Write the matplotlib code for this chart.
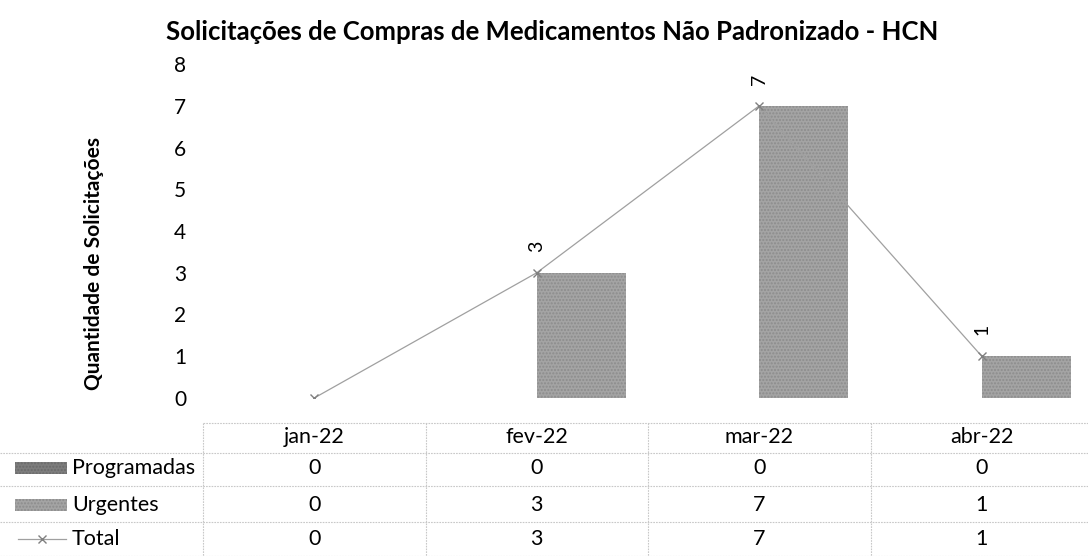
import matplotlib.pyplot as plt
import matplotlib.transforms as mtransforms
from matplotlib.patches import Rectangle
from matplotlib.lines import Line2D

plt.rcParams['font.family'] = ['Lato', 'DejaVu Sans']

meses = ['jan-22', 'fev-22', 'mar-22', 'abr-22']
programadas = [0, 0, 0, 0]
urgentes = [0, 3, 7, 1]
total = [0, 3, 7, 1]
linhas = ['Programadas', 'Urgentes', 'Total']

W, H = 1088, 556
fig = plt.figure(figsize=(W / 100, H / 100), dpi=100)

# plot area in pixels (left, top, right, bottom)
L, T, R, B = 203, 64, 1093, 398
ax = fig.add_axes([L / W, 1 - B / H, (R - L) / W, (B - T) / H])

x = list(range(len(meses)))
larg = 0.40
cor_prog = '#7d7d7d'
cor_urg = '#a4a4a4'
cor_linha = '#a0a0a0'

ax.bar([i - larg / 2 for i in x], programadas, width=larg, color=cor_prog,
       hatch='.....', edgecolor='#6a6a6a', linewidth=0)
ax.bar([i + larg / 2 for i in x], urgentes, width=larg, color=cor_urg,
       hatch='.....', edgecolor='#8c8c8c', linewidth=0)
ax.plot(x, total, color=cor_linha, lw=0.9, marker='x', ms=6, mew=1.0,
        mec='#808080')

for i, v in zip(x, total):
    if v > 0:
        ax.annotate(str(v), (i, v), xytext=(0, 19), textcoords='offset points',
                    ha='center', va='center', rotation=90, fontsize=14)

ax.set_xlim(-0.5, 3.5)
ax.set_ylim(0, 8)
ax.set_yticks(range(9))
ax.tick_params(axis='y', length=0, pad=12, labelsize=15)
ax.set_xticks([])
for s in ax.spines.values():
    s.set_visible(False)

ax.set_ylabel('Quantidade de Solicitações', fontsize=15, fontweight='bold')
ax.yaxis.set_label_coords((104 - L) / (R - L), (B - 264) / (B - T))

fig.text(552 / W, 1 - 32 / H, 'Solicitações de Compras de Medicamentos Não Padronizado - HCN',
         ha='center', va='center', fontsize=18.5, fontweight='bold')

# data table below the plot
trans = mtransforms.blended_transform_factory(ax.transData, fig.transFigure)
fy = lambda py: 1 - py / H
grade = dict(color='#c8c8c8', lw=0.8, ls=(0, (1.5, 1)))

linhas_h = [423, 453, 486, 522, 556]
fig.add_artist(Line2D([L / W, 1], [fy(linhas_h[0])] * 2, transform=fig.transFigure, **grade))
for py in linhas_h[1:]:
    fig.add_artist(Line2D([0, 1], [fy(py)] * 2, transform=fig.transFigure, **grade))
for xb in [-0.5, 0.5, 1.5, 2.5]:
    fig.add_artist(Line2D([xb, xb], [fy(423), fy(556)], transform=trans, **grade))

centros = [437, 468, 505, 539]
for i, m in enumerate(meses):
    fig.text(i, fy(centros[0]), m, transform=trans, ha='center', va='center', fontsize=15.5)
series = [programadas, urgentes, total]
for r, vals in enumerate(series):
    for i, v in enumerate(vals):
        fig.text(i, fy(centros[r + 1]), str(v), transform=trans,
                 ha='center', va='center', fontsize=15.5)
    fig.text(72 / W, fy(centros[r + 1]), linhas[r], ha='left', va='center', fontsize=15.5)

# legend keys in the row labels
for r, (c, ec) in enumerate([(cor_prog, '#6a6a6a'), (cor_urg, '#8c8c8c')]):
    cy = centros[r + 1]
    fig.add_artist(Rectangle((15 / W, fy(cy + 6)), 52 / W, 12 / H, transform=fig.transFigure,
                             facecolor=c, hatch='.....', edgecolor=ec, linewidth=0))
cy = centros[3]
fig.add_artist(Line2D([18 / W, 66 / W], [fy(cy)] * 2, transform=fig.transFigure,
                      color=cor_linha, lw=0.9))
fig.add_artist(Line2D([42 / W], [fy(cy)], transform=fig.transFigure, marker='x',
                      ms=6, mew=1.0, color='#808080'))

fig.savefig('out.png', dpi=100)
